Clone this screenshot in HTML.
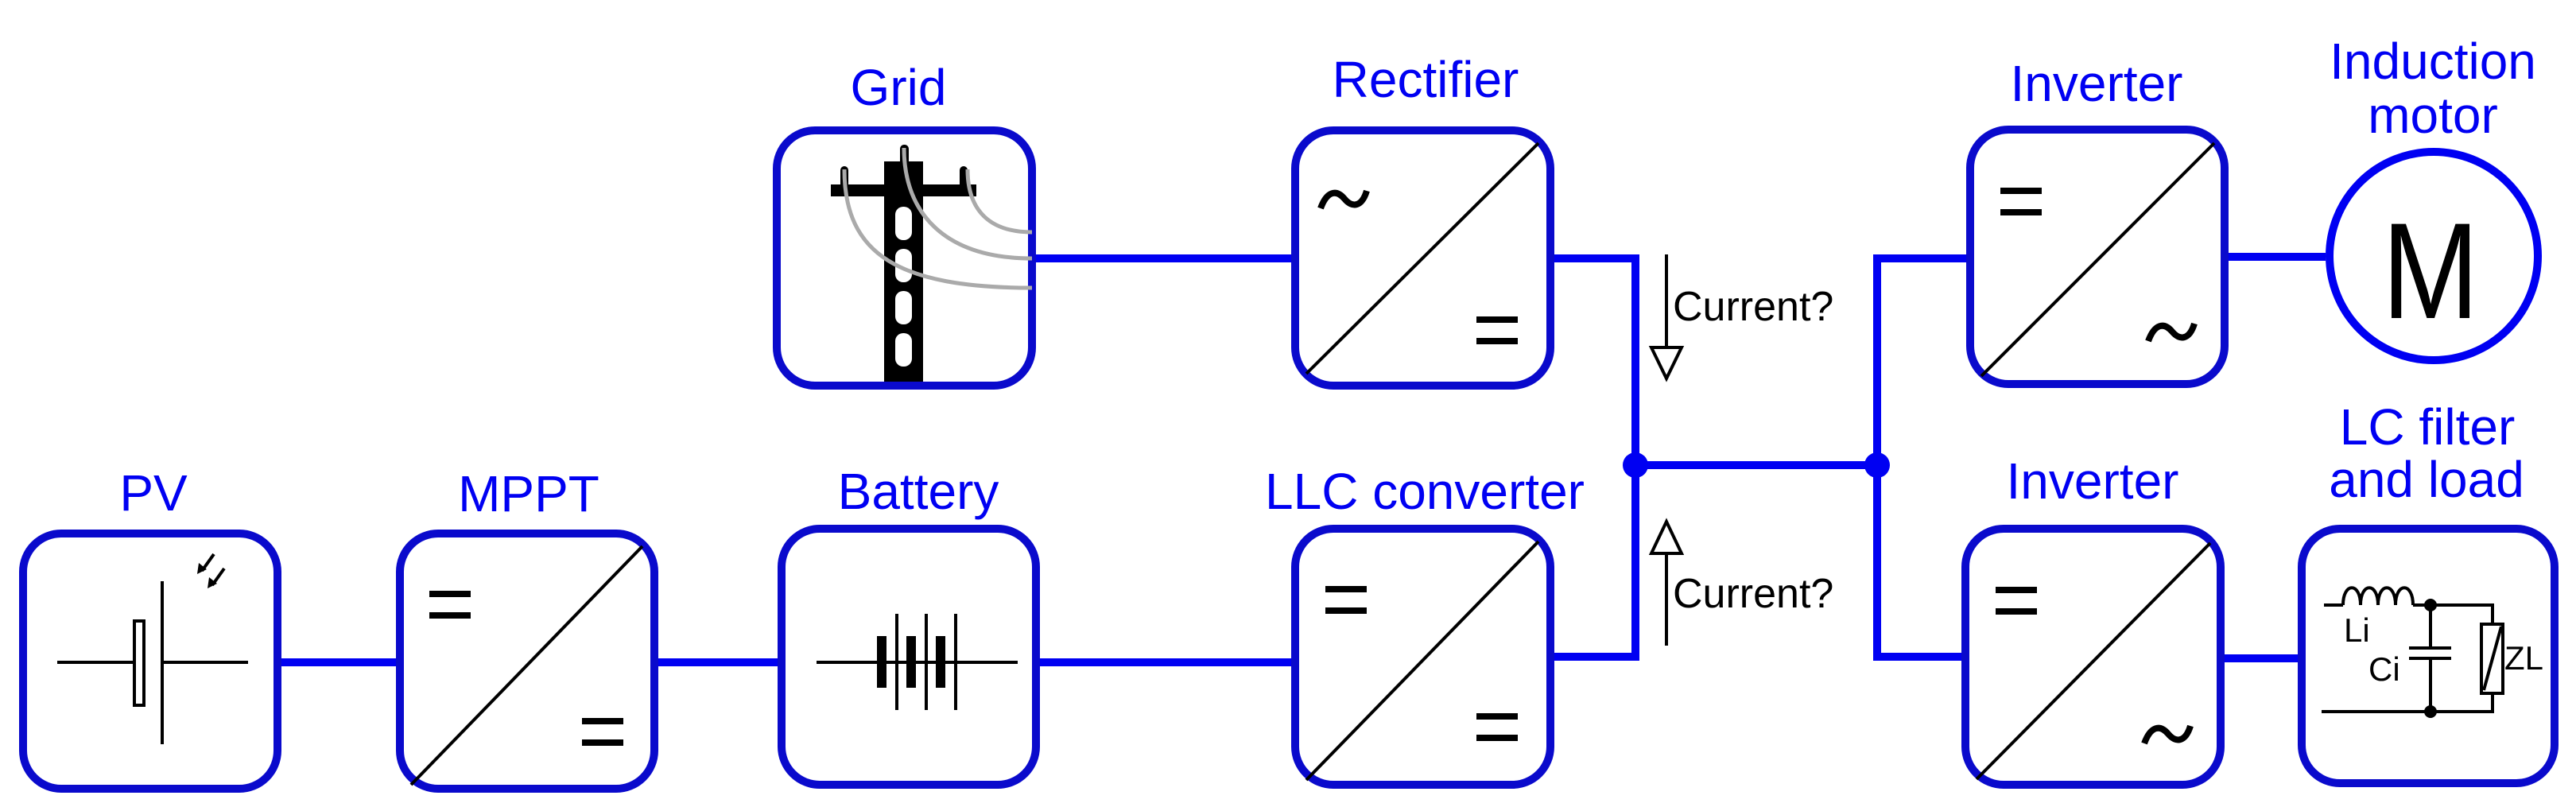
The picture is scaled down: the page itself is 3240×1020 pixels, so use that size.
<!DOCTYPE html>
<html><head><meta charset="utf-8"><style>
html,body{margin:0;padding:0;background:#fff}
svg{display:block}
text{font-family:"Liberation Sans",Arial,sans-serif}
</style></head><body>
<svg width="3240" height="1020" viewBox="0 0 3240 1020" xmlns="http://www.w3.org/2000/svg">
<defs>
<g id="eq"><rect x="0" y="0" width="52" height="8" fill="#000"/><rect x="0" y="27" width="52" height="8" fill="#000"/></g>
<path id="tl" d="M0,24 C8,2 20,0 30,12 C40,24 52,22 58,2" fill="none" stroke="#000" stroke-width="8"/>
</defs>
<rect width="3240" height="1020" fill="#fff"/>

<g stroke="#0000f2" stroke-width="10" fill="none">
<line x1="349" y1="833" x2="503" y2="833"/>
<line x1="823" y1="833" x2="983" y2="833"/>
<line x1="1303" y1="833" x2="1629" y2="833"/>
<line x1="1298" y1="325" x2="1629" y2="325"/>
<polyline points="1950,325 2057,325 2057,826 1950,826"/>
<line x1="2057" y1="585" x2="2361" y2="585"/>
<polyline points="2478,325 2361,325 2361,826 2472,826"/>
<line x1="2798" y1="323" x2="2925" y2="323"/>
<line x1="2793" y1="828" x2="2895" y2="828"/>
</g>
<circle cx="2057" cy="585" r="16" fill="#0000f2"/>
<circle cx="2361" cy="585" r="16" fill="#0000f2"/>

<g stroke="#0a0acc" stroke-width="10" fill="#fff">
<rect x="29" y="671" width="320" height="321" rx="48"/>
<rect x="503" y="671" width="320" height="321" rx="48"/>
<rect x="983" y="665" width="320" height="322" rx="48"/>
<rect x="1629" y="665" width="321" height="322" rx="48"/>
<rect x="977" y="164" width="321" height="321" rx="48"/>
<rect x="1629" y="164" width="321" height="321" rx="48"/>
<rect x="2478" y="163" width="320" height="320" rx="48"/>
<rect x="2472" y="665" width="321" height="322" rx="48"/>
<rect x="2895" y="665" width="318" height="320" rx="48"/>
</g>
<ellipse cx="3061" cy="322" rx="131" ry="131" fill="#fff" stroke="#0000f2" stroke-width="10"/>

<g fill="#0000f2" font-size="64" text-anchor="middle">
<text x="193" y="642">PV</text>
<text x="665" y="643">MPPT</text>
<text x="1155" y="640">Battery</text>
<text x="1792" y="640">LLC converter</text>
<text x="1130" y="132">Grid</text>
<text x="1793" y="122">Rectifier</text>
<text x="2637" y="127">Inverter</text>
<text x="2632" y="627">Inverter</text>
<text x="3060" y="99">Induction</text>
<text x="3060" y="167">motor</text>
<text x="3053" y="559">LC filter</text>
<text x="3052" y="625">and load</text>
</g>
<text x="3057" y="400" font-size="172" text-anchor="middle" fill="#000" textLength="122" lengthAdjust="spacingAndGlyphs">M</text>

<g stroke="#000" stroke-width="4">
<line x1="517" y1="987" x2="808" y2="687"/>
<line x1="1643" y1="470" x2="1935" y2="180"/>
<line x1="1643" y1="981" x2="1935" y2="681"/>
<line x1="2492" y1="473" x2="2785" y2="180"/>
<line x1="2486" y1="980" x2="2780" y2="683"/>
</g>
<use href="#eq" x="540" y="743"/>
<use href="#eq" x="732" y="903"/>
<use href="#tl" x="1661" y="238"/>
<use href="#eq" x="1857" y="398"/>
<use href="#eq" x="1667" y="737"/>
<use href="#eq" x="1857" y="897"/>
<use href="#eq" x="2516" y="236"/>
<use href="#tl" x="2702" y="405"/>
<use href="#eq" x="2510" y="738"/>
<use href="#tl" x="2697" y="911"/>

<g stroke="#000" stroke-width="4" fill="none">
<line x1="72" y1="833" x2="168" y2="833"/>
<rect x="169" y="781" width="12" height="106" fill="#fff"/>
<line x1="204" y1="731" x2="204" y2="936"/>
<line x1="204" y1="833" x2="312" y2="833"/>
<line x1="269" y1="697" x2="254" y2="718"/>
<line x1="282" y1="715" x2="267" y2="736"/>
</g>
<path d="M248,722 l2,-14 l10,8 z M261,740 l2,-14 l10,8 z" fill="#000"/>

<g stroke="#000" stroke-width="4">
<line x1="1027" y1="833" x2="1280" y2="833"/>
<line x1="1128" y1="772" x2="1128" y2="893"/>
<line x1="1165" y1="772" x2="1165" y2="893"/>
<line x1="1202" y1="772" x2="1202" y2="893"/>
</g>
<g fill="#000">
<rect x="1103" y="800" width="12" height="65"/>
<rect x="1140" y="800" width="12" height="65"/>
<rect x="1177" y="800" width="12" height="65"/>
</g>

<g fill="#000">
<rect x="1112" y="203" width="49" height="277"/>
<rect x="1045" y="232" width="183" height="15"/>
<rect x="1057" y="209" width="10" height="30" rx="5"/>
<rect x="1207" y="209" width="10" height="30" rx="5"/>
<rect x="1132" y="182" width="11" height="30" rx="5"/>
</g>
<g fill="#fff">
<rect x="1126" y="260" width="21" height="42" rx="10"/>
<rect x="1126" y="313" width="21" height="42" rx="10"/>
<rect x="1126" y="366" width="21" height="42" rx="10"/>
<rect x="1126" y="419" width="21" height="42" rx="10"/>
</g>
<g stroke="#aaa" stroke-width="5" fill="none">
<path d="M1062,213 C1062,320 1130,362 1298,362"/>
<path d="M1137,186 C1137,270 1190,325 1298,325"/>
<path d="M1217,213 C1217,265 1245,292 1298,292"/>
</g>

<g stroke="#000" stroke-width="4" fill="#fff">
<line x1="2096" y1="320" x2="2096" y2="437"/>
<polygon points="2077,437 2115,437 2096,476"/>
<line x1="2096" y1="696" x2="2096" y2="812"/>
<polygon points="2077,696 2115,696 2096,656"/>
</g>
<g font-size="52" fill="#000">
<text x="2104" y="403">Current?</text>
<text x="2104" y="764">Current?</text>
</g>

<g stroke="#000" stroke-width="4" fill="none">
<line x1="2923" y1="761" x2="2947" y2="761"/>
<path d="M2947,761 C2947,732 2969,732 2969,761 C2969,732 2991,732 2991,761 C2991,732 3013,732 3013,761 C3013,732 3035,732 3035,761"/>
<polyline points="3035,761 3135,761 3135,785"/>
<line x1="3057" y1="761" x2="3057" y2="815"/>
<line x1="3030" y1="815" x2="3083" y2="815"/>
<line x1="3030" y1="828" x2="3083" y2="828"/>
<line x1="3057" y1="828" x2="3057" y2="895"/>
<polyline points="2920,895 3135,895 3135,872"/>
<rect x="3121" y="785" width="27" height="87"/>
<line x1="3124" y1="868" x2="3146" y2="788"/>
</g>
<circle cx="3057" cy="761" r="8" fill="#000"/>
<circle cx="3057" cy="895" r="8" fill="#000"/>
<g font-size="42" fill="#000">
<text x="2948" y="807">Li</text>
<text x="2979" y="856">Ci</text>
<text x="3150" y="842">ZL</text>
</g>
</svg>
</body></html>
